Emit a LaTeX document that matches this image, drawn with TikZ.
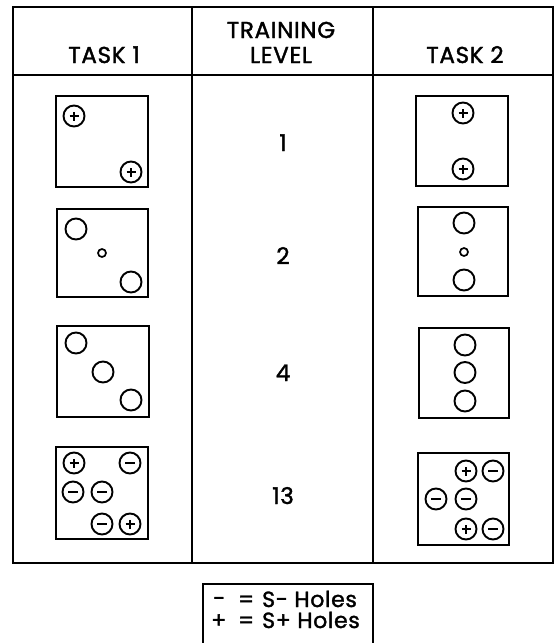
\documentclass[tikz,border=0pt]{standalone}
\usepackage{fontspec}
\setmainfont{Poppins}
\newfontfamily\labfont[LetterSpace=3, FakeBold=1.6]{Poppins}
\newfontfamily\legfont[LetterSpace=3, FakeBold=1.6]{Poppins}
\tikzset{
  tbl/.style={line width=1.8pt},
  tray/.style={draw, line width=2.4pt, rectangle, inner sep=0pt},
  hole/.style={circle, draw, line width=1.9pt, minimum size=21pt, inner sep=0pt},
  smallhole/.style={circle, draw, line width=1.7pt, minimum size=8pt, inner sep=0pt},
  sgn/.style={line width=2.8pt},
  head/.style={font=\labfont\fontsize{23}{23}\selectfont, anchor=base, inner sep=0pt},
  num/.style={font=\labfont\fontsize{23}{23}\selectfont, anchor=base, inner sep=0pt},
  leg/.style={font=\legfont\fontsize{22}{22}\selectfont, anchor=base west, inner sep=0pt}
}
\newcommand\phole[2]{\node[hole] (#1) at (#2) {};
  \draw[sgn] ([xshift=-4.5pt]#1.center) -- ([xshift=4.5pt]#1.center)
             ([yshift=-4.5pt]#1.center) -- ([yshift=4.5pt]#1.center);}
\newcommand\mhole[2]{\node[hole] (#1) at (#2) {};
  \draw[sgn] ([xshift=-5pt]#1.center) -- ([xshift=5pt]#1.center);}
\begin{document}
\begin{tikzpicture}[x=1pt, y=-1pt]
\useasboundingbox (0,0) rectangle (554,643);
% table
\coordinate (tl) at (13,7);
\coordinate (br) at (553,563);
\draw[tbl] (tl) rectangle (br);
\coordinate (h1) at (13,75);
\coordinate (h2) at (553,75);
\draw[tbl] (h1) -- (h2);
\coordinate (d1t) at (192,7);
\coordinate (d1b) at (192,563);
\coordinate (d2t) at (373,7);
\coordinate (d2b) at (373,563);
\draw[tbl] (d1t) -- (d1b);
\draw[tbl] (d2t) -- (d2b);
% headers
\node[head] (task1) at (104,63) {TASK 1};
\node[head] (train) at (281,38) {TRAINING};
\node[head] (level) at (281,63) {LEVEL};
\node[head] (task2) at (465,63) {TASK 2};
% levels
\node[num] (n1) at (283,151) {1};
\node[num] (n2) at (283,264) {2};
\node[num] (n4) at (283,381) {4};
\node[num] (n13) at (283,504) {13};
% task 1 trays
\node[tray, minimum width=92pt, minimum height=91pt] (a1) at (102,141.5) {};
\phole{a1p}{74,116}
\phole{a1q}{131,172}
\node[tray, minimum width=91pt, minimum height=88pt] (a2) at (102.5,253) {};
\node[hole] (a2a) at (76,229) {};
\node[smallhole] (a2b) at (102,253) {};
\node[hole] (a2c) at (131,282) {};
\node[tray, minimum width=92pt, minimum height=91pt] (a3) at (103,371.5) {};
\node[hole] (a3a) at (76,343) {};
\node[hole] (a3b) at (103,372) {};
\node[hole] (a3c) at (131,400) {};
\node[tray, minimum width=92pt, minimum height=92pt] (a4) at (102,493) {};
\phole{a4a}{74,463}
\mhole{a4b}{130,463}
\mhole{a4c}{73,492}
\mhole{a4d}{102,492}
\mhole{a4e}{102,524}
\phole{a4f}{130,524}
% task 2 trays
\node[tray, minimum width=92pt, minimum height=90pt] (b1) at (462,141) {};
\phole{b1a}{463,113}
\phole{b1b}{463,169}
\node[tray, minimum width=90pt, minimum height=89pt] (b2) at (463,251.5) {};
\node[hole] (b2a) at (464,223) {};
\node[smallhole] (b2b) at (464,252) {};
\node[hole] (b2c) at (464,280) {};
\node[tray, minimum width=90pt, minimum height=90pt] (b3) at (464,373) {};
\node[hole] (b3a) at (465,345) {};
\node[hole] (b3b) at (465,372.5) {};
\node[hole] (b3c) at (465,401) {};
\node[tray, minimum width=91pt, minimum height=92pt] (b4) at (463.5,499) {};
\phole{b4a}{466,471}
\mhole{b4b}{493,471}
\mhole{b4c}{436,499}
\mhole{b4d}{466,499}
\phole{b4e}{466,529}
\mhole{b4f}{493,529}
% legend
\coordinate (lg1) at (203,645);
\coordinate (lg2) at (203,584);
\coordinate (lg3) at (373,584);
\coordinate (lg4) at (373,645);
\draw[tbl] (lg1) -- (lg2) -- (lg3) -- (lg4);
\node[leg] (lm) at (213,606) {-};
\node[leg] (le1) at (238,607) {=};
\node[leg] (lt1) at (262,607) {S- Holes};
\node[leg] (lp) at (211,628) {+};
\node[leg] (le2) at (238,628) {=};
\node[leg] (lt2) at (262,628) {S+ Holes};
\end{tikzpicture}
\end{document}
